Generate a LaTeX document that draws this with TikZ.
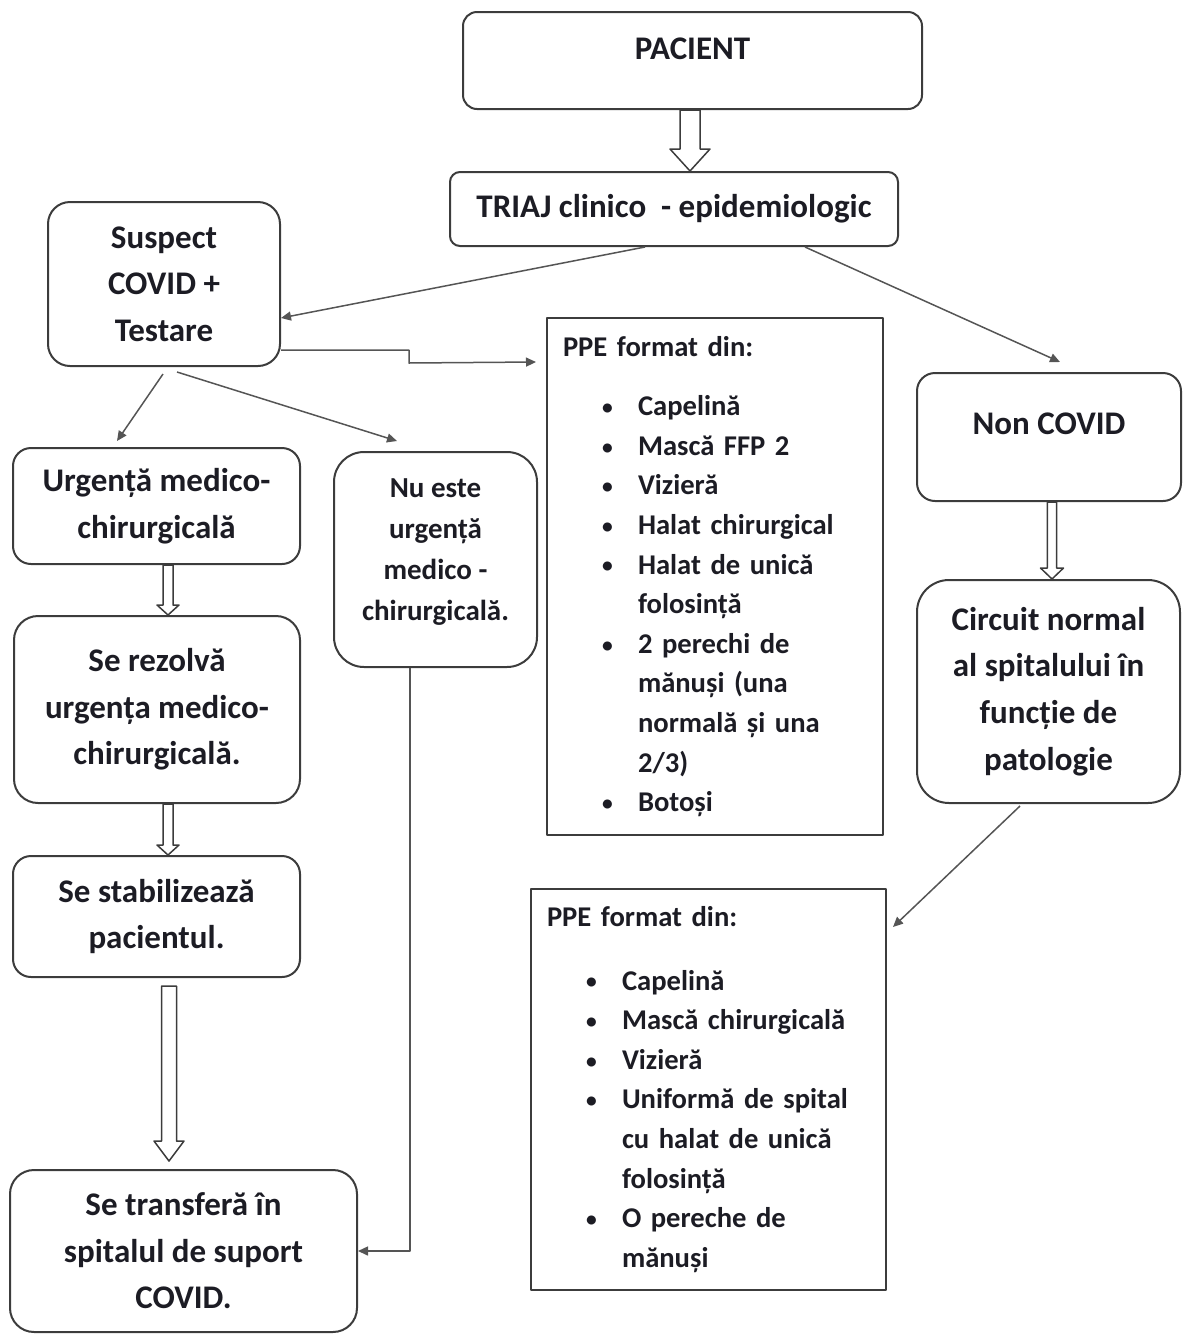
\documentclass[tikz,border=0pt]{standalone}
\usepackage{fontspec}
\setmainfont{Carlito}
\usetikzlibrary{calc,arrows.meta}

\definecolor{bline}{RGB}{60, 60, 60}
\definecolor{aline}{RGB}{85, 85, 85}
\definecolor{btext}{RGB}{28, 28, 36}

\newcommand{\bigfont}{\fontsize{16.5}{23.3}\selectfont\bfseries}
\newcommand{\midfont}{\fontsize{14.5}{20.6}\selectfont\bfseries}
\newcommand{\listfont}{\fontsize{14.3}{19.8}\selectfont\bfseries}
\newcommand{\pitem}[1][0pt]{\\[#1]\hspace*{19.5pt}\makebox[18pt][l]{\raisebox{0.6pt}{\scalebox{0.75}{\textbullet}}}\ignorespaces}
\newcommand{\pcont}{\\\hspace*{37.5pt}\ignorespaces}

\begin{document}
\begin{tikzpicture}[x=0.5pt, y=-0.5pt, line join=round,
		rbox/.style={draw=bline, line width=1pt, rounded corners=#1, align=center, text=btext, font=\bigfont, inner sep=0pt},
		rbox/.default=9pt,
		sbox/.style={draw=bline, line width=1pt, align=left, text=btext, font=\listfont, inner xsep=8pt, inner ysep=0pt},
		conn/.style={draw=aline, line width=0.75pt, -{Triangle[length=5pt, width=4.5pt]}},
		hollow/.style n args={3}{draw=bline, line width=0.75pt,
				to path={let \p1=(\tikztostart), \p2=(\tikztotarget) in
						(\x1-#1,\y1) -- (\x1-#1,\y2+#3) -- (\x1-#2,\y2+#3) -- (\x1,\y2)
						-- (\x1+#2,\y2+#3) -- (\x1+#1,\y2+#3) -- (\x1+#1,\y1) -- cycle}}]
			\useasboundingbox (0,0) rectangle (1184,1334);

			% --- Top ---
			\node[rbox=7pt, minimum width=229.5pt, minimum height=48.5pt, text depth=12pt] (pac) at (692.5,60.5) {PACIENT};
			\node[rbox=5pt, minimum width=224pt, minimum height=37pt] (triaj) at (674,209) {TRIAJ clinico\ \ - epidemiologic};
			\draw[hollow={5pt}{10pt}{11pt}] ($(pac.south)+(-2.5,0)$) to (triaj.north);

			% --- Suspect branch ---
			\node[rbox=11pt, minimum width=116pt, minimum height=82pt] (susp) at (164,284) {Suspect\\COVID +\\Testare};
			\node[rbox=9pt, minimum width=143.5pt, minimum height=58pt] (urg) at (156.5,506) {Urgență medico-\\chirurgicală};
			\node[rbox=12pt, minimum width=143pt, minimum height=93.5pt] (rez) at (157,709.5) {Se rezolvă\\urgența medico-\\chirurgicală.};
			\node[rbox=9pt, minimum width=143.5pt, minimum height=60.5pt] (stab) at (156.5,916.5) {Se stabilizează\\pacientul.};
			\node[rbox=12pt, minimum width=173.5pt, minimum height=81pt] (transf) at (183.5,1251) {Se transferă în\\spitalul de suport\\COVID.};
			\node[rbox=15pt, minimum width=101.5pt, minimum height=107.5pt, font=\midfont, text depth=10pt] (nueste) at (435.5,559.5) {Nu este\\urgență\\medico -\\chirurgicală.};

			\draw[conn] ($(triaj.south)+(-29,0)$) -- ($(susp.east)+(0,34)$);
			\draw[conn] ($(susp.south)+(-1,7)$) -- ($(urg.north)+(-39.5,-6)$);
			\draw[conn] ($(susp.south)+(13,5)$) -- ($(nueste.north)+(-38.5,-10)$);
			\draw[hollow={2.5pt}{5.5pt}{5pt}] ($(urg.south)+(11.5,0)$) to (rez.north);
			\draw[hollow={2.5pt}{5.5pt}{5pt}] ($(rez.south)+(11,0)$) to (stab.north);
			\draw[hollow={3.75pt}{7.5pt}{10pt}] ($(stab.south)+(12.5,8)$) to ($(transf.north)+(0,-8)$);
			\draw[conn] ($(nueste.south)+(-25.5,0)$) |- (transf.east);

			% --- Non COVID branch ---
			\node[rbox=9pt, minimum width=132pt, minimum height=64pt, text depth=13pt] (noncov) at (1049,437) {Non COVID};
			\node[rbox=16pt, minimum width=131.5pt, minimum height=111.5pt] (circ) at (1048.5,691.5) {Circuit normal\\al spitalului în\\funcție de\\patologie};
			\draw[conn] ($(triaj.south)+(131,0)$) -- ($(noncov.north)+(11,-10)$);
			\draw[hollow={2.3pt}{5.75pt}{5.5pt}] ($(noncov.south)+(3,0)$) to (circ.north);

			% --- PPE lists ---
			\node[sbox, text width=152pt, minimum height=258.5pt] (ppe1) at (715,576.5) {PPE format din:
					\pitem[10pt] Capelină
					\pitem Mască FFP 2
					\pitem Vizieră
					\pitem Halat chirurgical
					\pitem Halat de unică \pcont folosință
					\pitem 2 perechi de \pcont mănuși (una \pcont normală și una \pcont 2/3)
					\pitem Botoși};
			\node[sbox, text width=161.5pt, minimum height=200.5pt] (ppe2) at (708.5,1089.5) {PPE format din:
					\pitem[12pt] Capelină
					\pitem Mască chirurgicală
					\pitem Vizieră
					\pitem Uniformă de spital \pcont cu halat de unică \pcont folosință
					\pitem O pereche de \pcont mănuși};

			\draw[conn] ($(susp.east)+(0,66)$) -- ++(128,0) -- ++(0,13) -- ($(ppe1.north west)+(-10,45)$);
			\draw[conn] ($(circ.south)+(-28.5,2)$) -- ($(ppe2.north east)+(6,39)$);

		\end{tikzpicture}
\end{document}
